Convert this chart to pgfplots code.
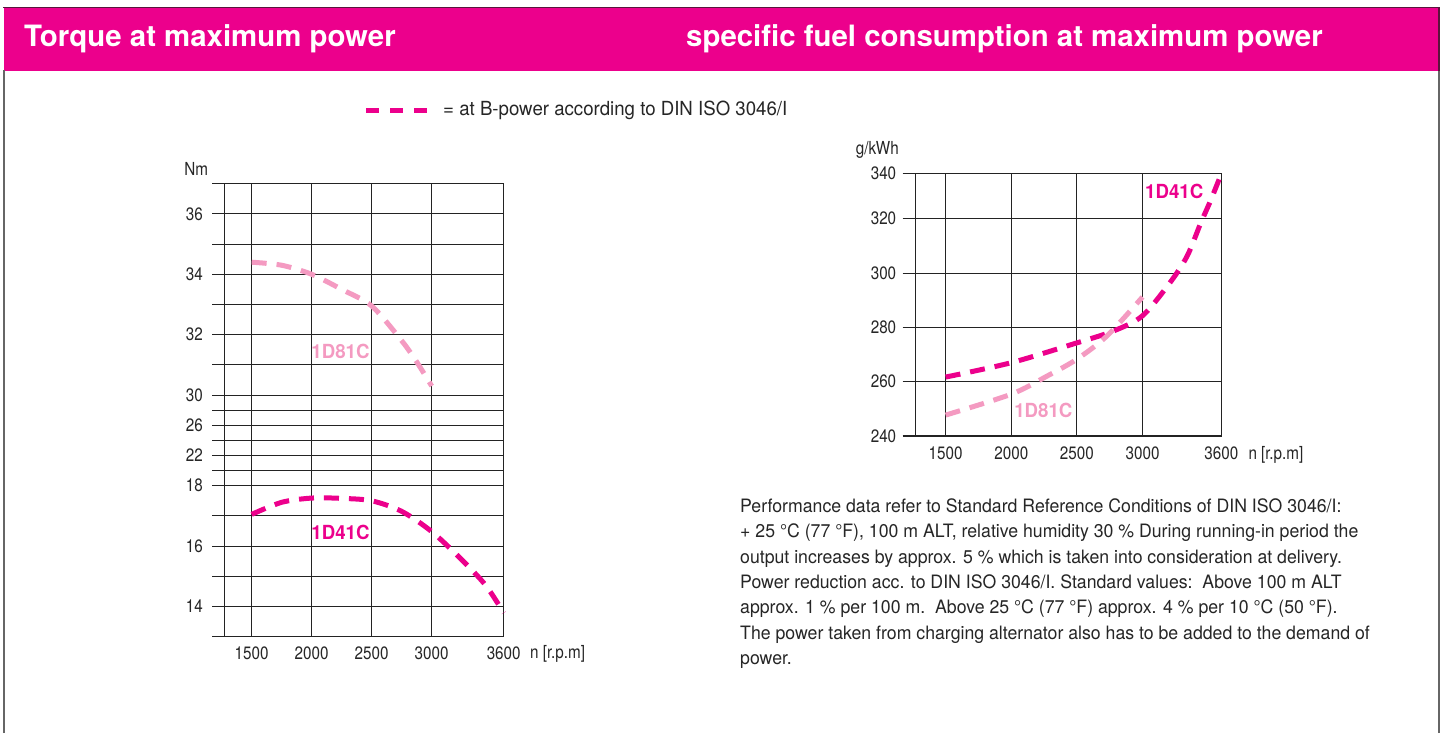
\documentclass[border=0pt]{standalone}
\usepackage{fontspec}
\setmainfont{TeX Gyre Heros}[FakeStretch=0.96]
\newfontfamily\condf{TeX Gyre Heros}[FakeStretch=0.85]
\newfontfamily\hdrfam{TeX Gyre Heros}
\usepackage{pgfplots}
\pgfplotsset{compat=1.18}
\definecolor{mag}{RGB}{236,0,140}
\definecolor{lpink}{RGB}{244,154,193}
\definecolor{gridc}{RGB}{35,35,35}
\definecolor{topline}{RGB}{90,20,60}
\newcommand\tl{\condf\fontsize{18}{20}\selectfont}
\newcommand\bodyf{\fontsize{18.5}{22}\selectfont}
\newcommand\legf{\fontsize{19.5}{22}\selectfont}
\newcommand\hdrf{\hdrfam\bfseries\fontsize{29.5}{32}\selectfont}
\newcommand\lblf{\bfseries\fontsize{19.5}{22}\selectfont}
\pgfplotsset{
  chartbase/.style={
    scale only axis,
    xmin=1272, xmax=3600,
    xtick={1500,2000,2500,3000,3600},
    xticklabels={1500,2000,2500,3000,3600},
    grid=major,
    major grid style={gridc, line width=1.1bp},
    axis line style={gridc, line width=1.1bp},
    ytick pos=left,
    tick align=outside,
    xtick style={draw=none},
    ytick style={gridc, line width=1.1bp},
    ticklabel style={font=\tl, text=black!85},
    xticklabel style={anchor=base, yshift=-11bp},
    clip=false,
  },
  curveA/.style={mag, line width=5bp, dash pattern=on 15bp off 10bp, smooth},
  curveB/.style={lpink, line width=5bp, dash pattern=on 15bp off 10bp, smooth},
}
\begin{document}
\begin{tikzpicture}[x=1bp,y=1bp]
\fill[white] (0,0) rectangle (1450,733);
% header band
\fill[mag] (4,662) rectangle (1439,725);
\draw[line width=1.6bp, topline] (3,725.5) -- (1440,725.5);
\draw[line width=1.2bp, topline] (1439,662) -- (1439,725.5);
\draw[line width=2bp, black!60] (3.7,0) -- (3.7,663);
\draw[line width=2bp, black!60] (1438.7,0) -- (1438.7,662);
\node[anchor=base west, inner sep=0, text=white, font=\hdrf] at (24,686.5) {Torque at maximum power};
\node[anchor=base west, inner sep=0, text=white, font=\hdrf] at (686,686.5) {specific fuel consumption at maximum power};
% legend
\draw[mag, line width=5bp, dash pattern=on 13bp off 11bp] (366,622.3) -- (427,622.3);
\node[anchor=base west, inner sep=0, font=\legf, text=black!85] at (443,617.3) {= at B-power according to DIN ISO 3046/I};

% left chart: torque
\begin{axis}[chartbase,
  at={(224.3bp,96.3bp)}, anchor=south west,
  width=279.4bp, height=453bp,
  ymin=13, ymax=37,
  y coord trafo/.code={\pgfmathparse{(#1>=30)*(16+2*(#1-30)) + (#1<30)*(#1>=18)*(10+(#1-18)/2) + (#1<18)*(2*(#1-13))}},
  ytick={13,14,15,16,17,18,20,22,24,26,28,30,31,32,33,34,35,36,37},
  yticklabels={{},14,{},16,{},18,{},22,{},26,{},30,{},32,{},34,{},36,{}},
  yticklabel style={xshift=-6bp},
  major tick length=12bp,
]
\addplot[curveB] coordinates {(1500,34.4) (1750,34.3) (2000,34.0) (2250,33.5) (2500,32.95) (2750,31.8) (2875,31.1) (3000,30.3)};
\addplot[curveA] coordinates {(1500,17.05) (1750,17.45) (2000,17.59) (2250,17.58) (2500,17.5) (2750,17.15) (3000,16.48) (3250,15.55) (3450,14.7) (3600,13.79)};
\end{axis}
\node[anchor=base east, inner sep=0, font=\tl, text=black!85] at (208.3,557) {Nm};
\node[anchor=base west, inner sep=0, font=\tl, text=black!85] at (530,74.7) {n [r.p.m]};
\node[font=\lblf, text=lpink, inner sep=0] at (340.5,381.3) {1D81C};
\node[font=\lblf, text=mag, inner sep=0] at (340.5,200.8) {1D41C};

% right chart: fuel consumption
\begin{axis}[chartbase,
  at={(915.7bp,297bp)}, anchor=south west,
  width=305.6bp, height=262.3bp,
  ymin=240, ymax=340,
  y coord trafo/.code={\pgfmathparse{(#1<=320)*(#1) + (#1>320)*(320+(#1-320)*0.83)}},
  ytick={240,260,280,300,320,340},
  yticklabels={240,260,280,300,320,340},
  yticklabel style={xshift=-3bp},
  major tick length=13bp,
]
\addplot[curveA] coordinates {(1500,261.7) (2000,267.0) (2500,274.3) (2780,278.7) (3000,284.3) (3214,296.8) (3341,306.4) (3443,318.4) (3520,328.3) (3600,340)};
\addplot[curveB] coordinates {(1500,247.7) (2000,255.4) (2270,262.0) (2500,268.3) (2730,276.9) (3000,291.2)};
\end{axis}
\node[anchor=base east, inner sep=0, font=\tl, text=black!85] at (899,578) {g/kWh};
\node[anchor=base west, inner sep=0, font=\tl, text=black!85] at (1248.3,273.7) {n [r.p.m]};
\node[font=\lblf, text=mag, inner sep=0] at (1174.2,541.2) {1D41C};
\node[font=\lblf, text=lpink, inner sep=0] at (1043.3,322.2) {1D81C};

% notes
\begin{scope}[every node/.style={anchor=base west, inner sep=0, font=\bodyf, text=black!85}]
\node at (740,220.7) {Performance data refer to Standard Reference Conditions of DIN ISO 3046/I:};
\node at (740,195.3) {+ 25 °C (77 °F), 100 m ALT, relative humidity 30 \% During running-in period the};
\node at (740,169.9) {output increases by approx. 5 \% which is taken into consideration at delivery.};
\node at (740,144.5) {Power reduction acc. to DIN ISO 3046/I. Standard values:\ \ Above 100 m ALT};
\node at (740,119.1) {approx. 1 \% per 100 m.\ \ Above 25 °C (77 °F) approx. 4 \% per 10 °C (50 °F).};
\node at (740,93.7) {The power taken from charging alternator also has to be added to the demand of};
\node at (740,68.3) {power.};
\end{scope}
\end{tikzpicture}
\end{document}
